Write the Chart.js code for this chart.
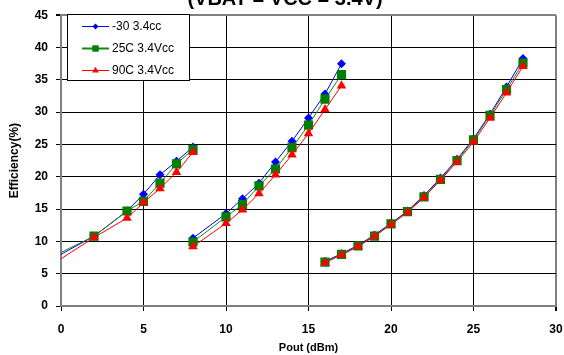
<!DOCTYPE html>
<html>
<head>
<meta charset="utf-8">
<script src="https://cdn.jsdelivr.net/npm/chart.js@4"></script>
<style>
  html, body { margin: 0; padding: 0; background: #fff; }
  #wrap { width: 564px; height: 355px; }
</style>
</head>
<body>
<div id="wrap"><canvas id="effChart" width="564" height="355"></canvas></div>
<script>
// Pout (dBm) per point, null breaks the line between the three sweeps
const poutX = [0, 2, 4, 5, 6, 7, 8, null, 8, 10, 11, 12, 13, 14, 15, 16, 17, null,
    16, 17, 18, 19, 20, 21, 22, 23, 24, 25, 26, 27, 28];

const effCold = [8.0, 10.8, 14.7, 17.3, 20.3, 22.4, 24.6, null,
    10.5, 14.3, 16.6, 19.0, 22.3, 25.5, 29.1, 32.8, 37.5, null,
    6.9, 8.1, 9.4, 11.0, 12.8, 14.7, 17.1, 19.8, 22.7, 25.9, 29.7, 33.9, 38.3];
const effRoom = [8.3, 10.8, 14.7, 16.2, 19.0, 22.0, 24.2, null,
    9.9, 13.8, 15.7, 18.6, 21.2, 24.5, 28.0, 32.0, 35.8, null,
    6.8, 8.0, 9.3, 10.8, 12.7, 14.6, 16.9, 19.6, 22.5, 25.7, 29.5, 33.5, 37.6];
const effHot = [7.3, 10.6, 13.6, 16.0, 18.2, 20.7, 23.8, null,
    9.2, 12.8, 14.9, 17.4, 20.3, 23.4, 26.7, 30.4, 34.1, null,
    6.7, 7.9, 9.2, 10.8, 12.6, 14.5, 16.8, 19.5, 22.3, 25.4, 29.1, 33.0, 37.1];

const seriesNames = ['-30 3.4cc', '25C 3.4Vcc', '90C 3.4Vcc'];
const chartTitle = '(VBAT = VCC = 3.4V)';
const xTitle = 'Pout (dBm)';
const yTitle = 'Efficiency(%)';

function points(ys) {
    return ys.map((y, i) => ({ x: poutX[i] === null ? 8 : poutX[i], y: y }));
}

// no marker on the first point (it sits on the axis)
function radii(r) {
    return poutX.map((x, i) => (i === 0 ? 0 : r));
}

const styles = [
    { color: '#0000ff', line: '#0000ff', point: 'rectRot', r: 4.5 },
    { color: '#008000', line: '#108a10', point: 'rect', r: 6.5 },
    { color: '#ff0000', line: '#ff0000', point: 'triangle', r: 5.5 }
];

const datasets = [effCold, effRoom, effHot].map((ys, i) => ({
    label: seriesNames[i],
    data: points(ys),
    borderColor: styles[i].line,
    backgroundColor: styles[i].color,
    pointBackgroundColor: styles[i].color,
    pointBorderColor: styles[i].color,
    pointBorderWidth: 0,
    pointStyle: styles[i].point,
    pointRadius: radii(styles[i].r),
    borderWidth: 1,
    spanGaps: false,
    order: 3 - i
}));

// title partly above the canvas edge and the boxed legend inside the plot
const decorPlugin = {
    id: 'decor',
    afterDraw(chart) {
        const ctx = chart.ctx;
        ctx.save();
        ctx.fillStyle = '#000';
        ctx.font = 'bold 20px "Liberation Sans", Arial, sans-serif';
        ctx.textAlign = 'center';
        ctx.textBaseline = 'alphabetic';
        ctx.fillText(chartTitle, 285, 5);

        const bx = 67, by = 14, bw = 122, bh = 66;
        ctx.fillStyle = '#fff';
        ctx.fillRect(bx, by, bw, bh);
        ctx.strokeStyle = '#000';
        ctx.lineWidth = 1;
        ctx.strokeRect(bx + 0.5, by + 0.5, bw, bh);

        seriesNames.forEach((name, i) => {
            const y = 26 + i * 22;
            ctx.strokeStyle = styles[i].line;
            ctx.lineWidth = i === 1 ? 2 : 1;
            ctx.beginPath();
            ctx.moveTo(82, y + 0.5);
            ctx.lineTo(109, y + 0.5);
            ctx.stroke();
            ctx.fillStyle = styles[i].color;
            Chart.helpers.drawPoint(ctx, {
                pointStyle: styles[i].point,
                radius: i === 0 ? 3 : styles[i].r * 0.7,
                rotation: 0,
                borderWidth: 0
            }, 95.5, y + 0.5);
            ctx.fillStyle = '#000';
            ctx.font = '12px "Liberation Sans", Arial, sans-serif';
            ctx.textAlign = 'left';
            ctx.textBaseline = 'middle';
            ctx.fillText(name, 112, y + 1);
        });
        ctx.restore();
    }
};

const edgeGrid = (edge) => (c) => (c.tick && c.tick.value === edge ? '#808080' : '#000');

new Chart(document.getElementById('effChart'), {
    type: 'line',
    data: { datasets: datasets },
    plugins: [decorPlugin],
    options: {
        responsive: false,
        animation: false,
        events: [],
        layout: { padding: { top: 11, right: 0, left: 0, bottom: 0 } },
        plugins: {
            legend: { display: false },
            tooltip: { enabled: false }
        },
        scales: {
            x: {
                type: 'linear',
                min: 0,
                max: 30,
                ticks: {
                    stepSize: 5,
                    color: '#000',
                    padding: 11,
                    font: { family: '"Liberation Sans", Arial, sans-serif', size: 12, weight: 'bold' }
                },
                grid: { color: edgeGrid(30), tickColor: '#000', tickLength: 5, lineWidth: (c) => (c.tick && c.tick.value === 30 ? 2 : 1) },
                border: { color: '#808080', width: 2 },
                title: {
                    display: true,
                    text: xTitle,
                    color: '#000',
                    padding: { top: 2, bottom: 0 },
                    font: { family: '"Liberation Sans", Arial, sans-serif', size: 11, weight: 'bold' }
                },
                afterFit: (s) => {
                    s.height = 49;
                    s.paddingLeft = 0;
                    s.paddingRight = 8;
                }
            },
            y: {
                min: 0,
                max: 45,
                ticks: {
                    stepSize: 5,
                    color: '#000',
                    padding: 8,
                    font: { family: '"Liberation Sans", Arial, sans-serif', size: 12, weight: 'bold' }
                },
                grid: { color: edgeGrid(45), tickColor: '#000', tickLength: 5, lineWidth: (c) => (c.tick && c.tick.value === 45 ? 2 : 1) },
                border: { color: '#808080', width: 2 },
                title: {
                    display: true,
                    text: yTitle,
                    color: '#000',
                    padding: { top: 7, bottom: 4 },
                    font: { family: '"Liberation Sans", Arial, sans-serif', size: 12, weight: 'bold' }
                },
                afterFit: (s) => { s.width = 61; }
            }
        }
    }
});
</script>
</body>
</html>
